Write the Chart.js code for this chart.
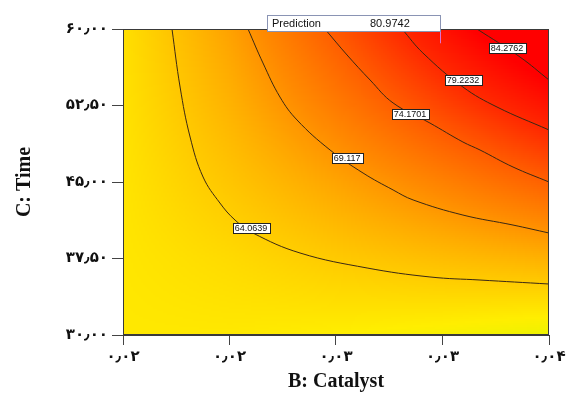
<!DOCTYPE html>
<html>
<head>
<meta charset="utf-8">
<script src="https://cdn.jsdelivr.net/npm/chart.js@4.4.0/dist/chart.umd.min.js"></script>
<style>
  html, body { margin: 0; padding: 0; background: #fff; }
  #wrap { width: 569px; height: 397px; }
</style>
</head>
<body>
<div id="wrap"><canvas id="myChart" width="569" height="397"></canvas></div>
<script>
// B: Catalyst on x, C: Time on y
var catalystTicks = [0.02, 0.025, 0.03, 0.035, 0.04];
var timeTicks = [30, 37.5, 45, 52.5, 60];
var catalystLabels = ['۰٫۰۲', '۰٫۰۲', '۰٫۰۳', '۰٫۰۳', '۰٫۰۴'];
var timeLabels = ['۳۰٫۰۰', '۳۷٫۵۰', '۴۵٫۰۰', '۵۲٫۵۰', '۶۰٫۰۰'];

// response estimated at the tick grid (one array per time value)
var resp30 = [61.5, 61.5, 61.0, 60.3, 59.3];
var resp375 = [61.7, 62.8, 64.3, 65.5, 66.6];
var resp45 = [61.9, 64.7, 67.7, 70.9, 74.2];
var resp525 = [62.1, 66.4, 71.5, 76.7, 81.7];
var resp60 = [62.3, 67.9, 74.9, 82.0, 89.1];

// contour lines [catalyst, time]
var contour1 = [[0.0223,60],[0.02268,54.31],[0.02315,49.41],[0.02376,45.49],[0.02455,42.94],[0.02526,41.27],[0.0261,40.0],[0.02831,38.04],[0.03146,36.57],[0.03441,35.69],[0.03676,35.39],[0.04,35.0]];
var contour2 = [[0.02587,60],[0.02657,56.67],[0.02737,53.33],[0.02817,51.08],[0.02972,48.14],[0.03127,45.88],[0.03268,44.22],[0.03362,43.24],[0.03596,41.76],[0.03831,40.78],[0.04,40.0]];
var contour3 = [[0.02948,60],[0.03052,57.45],[0.0316,55.0],[0.03268,52.75],[0.03441,50.78],[0.03596,48.92],[0.03676,48.14],[0.03831,46.47],[0.04,45.0]];
var contour4 = [[0.0331,60],[0.03408,57.65],[0.03596,54.31],[0.03756,52.35],[0.04,50.1]];
var contour5 = [[0.03662,60],[0.03864,57.25],[0.04,55.0]];

var contourLevels = ['64.0639', '69.117', '74.1701', '79.2232', '84.2762'];
var labelSpots = [[0.02601,40.49],[0.03052,47.35],[0.03347,51.67],[0.03596,55.0],[0.03803,58.14]];

var predictionPoint = [0.03486, 58.6];
var predictionValue = '80.9742';

var respGrid = [resp30, resp375, resp45, resp525, resp60];
var contours = [contour1, contour2, contour3, contour4, contour5];

// colour ramp: value -> rgb
var rampVals = [58, 61, 64, 67, 70, 74, 79, 84];
var rampCols = [[222,246,0],[255,238,0],[255,205,0],[255,172,0],[255,138,0],[255,98,0],[255,42,0],[255,0,0]];

function rampColour(v) {
  if (v <= rampVals[0]) return rampCols[0];
  for (var i = 1; i < rampVals.length; i++) {
    if (v <= rampVals[i]) {
      var t = (v - rampVals[i-1]) / (rampVals[i] - rampVals[i-1]);
      var a = rampCols[i-1], b = rampCols[i];
      return [a[0]+(b[0]-a[0])*t, a[1]+(b[1]-a[1])*t, a[2]+(b[2]-a[2])*t];
    }
  }
  return rampCols[rampCols.length-1];
}

function findCell(arr, v) {
  for (var i = 0; i < arr.length - 2; i++) {
    if (v < arr[i+1]) return i;
  }
  return arr.length - 2;
}

function respAt(x, y) {
  var i = findCell(catalystTicks, x);
  var j = findCell(timeTicks, y);
  var tx = (x - catalystTicks[i]) / (catalystTicks[i+1] - catalystTicks[i]);
  var ty = (y - timeTicks[j]) / (timeTicks[j+1] - timeTicks[j]);
  var a = respGrid[j][i], b = respGrid[j][i+1];
  var c = respGrid[j+1][i], d = respGrid[j+1][i+1];
  return (a*(1-tx) + b*tx) * (1-ty) + (c*(1-tx) + d*tx) * ty;
}

var surfacePlugin = {
  id: 'surface',
  beforeDatasetsDraw: function(chart) {
    var ctx = chart.ctx, area = chart.chartArea;
    var xs = chart.scales.x, ys = chart.scales.y;
    var step = 2;
    ctx.save();
    for (var px = area.left; px < area.right; px += step) {
      for (var py = area.top; py < area.bottom; py += step) {
        var v = respAt(xs.getValueForPixel(px + step/2), ys.getValueForPixel(py + step/2));
        var c = rampColour(v);
        ctx.fillStyle = 'rgb(' + Math.round(c[0]) + ',' + Math.round(c[1]) + ',' + Math.round(c[2]) + ')';
        ctx.fillRect(px, py, step, step);
      }
    }
    ctx.restore();
  },
  afterDatasetsDraw: function(chart) {
    var ctx = chart.ctx, area = chart.chartArea;
    var xs = chart.scales.x, ys = chart.scales.y;
    ctx.save();
    // frame
    ctx.strokeStyle = '#3a3a3a';
    ctx.lineWidth = 1;
    ctx.strokeRect(area.left + 0.5, area.top + 0.5, area.right - area.left - 1, area.bottom - area.top - 1);

    // contour labels
    ctx.font = '9px "Liberation Sans", Arial, sans-serif';
    ctx.textAlign = 'center';
    ctx.textBaseline = 'middle';
    for (var i = 0; i < contourLevels.length; i++) {
      var cx = xs.getPixelForValue(labelSpots[i][0]);
      var cy = ys.getPixelForValue(labelSpots[i][1]);
      var w = ctx.measureText(contourLevels[i]).width + 4;
      ctx.fillStyle = '#fff';
      ctx.fillRect(Math.round(cx - w/2) + 0.5, Math.round(cy - 5) + 0.5, Math.round(w), 10);
      ctx.strokeStyle = '#222';
      ctx.strokeRect(Math.round(cx - w/2) + 0.5, Math.round(cy - 5) + 0.5, Math.round(w), 10);
      ctx.fillStyle = '#111';
      ctx.fillText(contourLevels[i], cx, cy + 0.5);
    }

    // prediction flag
    var ppx = Math.round(xs.getPixelForValue(predictionPoint[0]));
    var ppy = ys.getPixelForValue(predictionPoint[1]);
    var bx = ppx - 173, by = area.top - 14;
    ctx.fillStyle = '#fff';
    ctx.fillRect(bx + 0.5, by + 0.5, 173, 16);
    ctx.strokeStyle = '#8a94b4';
    ctx.strokeRect(bx + 0.5, by + 0.5, 173, 16);
    ctx.strokeStyle = '#e070d0';
    ctx.beginPath();
    ctx.moveTo(ppx + 0.5, by + 17);
    ctx.lineTo(ppx + 0.5, ppy);
    ctx.stroke();
    ctx.fillStyle = '#111';
    ctx.font = '11px "Liberation Sans", Arial, sans-serif';
    ctx.textAlign = 'left';
    ctx.fillText('Prediction', bx + 5, by + 8.5);
    ctx.fillText(predictionValue, bx + 103, by + 8.5);
    ctx.restore();
  }
};

var datasets = contours.map(function(c, i) {
  return {
    label: contourLevels[i],
    data: c.map(function(p) { return { x: p[0], y: p[1] }; }),
    showLine: true,
    borderColor: '#3a2814',
    borderWidth: 1,
    pointRadius: 0,
    tension: 0.4,
    fill: false
  };
});

var tickFont = { family: '"DejaVu Sans", sans-serif', size: 15, weight: 'bold' };
var titleFont = { family: '"Liberation Serif", "Times New Roman", serif', size: 20, weight: 'bold' };

var ctx = document.getElementById('myChart').getContext('2d');
var chart = new Chart(ctx, {
  type: 'scatter',
  data: { datasets: datasets },
  options: {
    responsive: false,
    animation: false,
    layout: { padding: { left: 0, right: 20, top: 29, bottom: 0 } },
    plugins: { legend: { display: false }, tooltip: { enabled: false } },
    scales: {
      x: {
        type: 'linear', min: 0.02, max: 0.04,
        afterBuildTicks: function(s) { s.ticks = catalystTicks.map(function(v) { return { value: v }; }); },
        afterFit: function(s) { s.height = 62; },
        ticks: {
          color: '#111', font: tickFont, padding: 3, maxRotation: 0,
          callback: function(v, i) { return catalystLabels[i]; }
        },
        grid: { drawOnChartArea: false, drawTicks: true, tickLength: 10, color: '#444' },
        border: { color: '#3a3a3a' },
        title: { display: true, text: 'B: Catalyst', color: '#111', font: titleFont, padding: { top: 0, bottom: 3 } }
      },
      y: {
        type: 'linear', min: 30, max: 60,
        afterBuildTicks: function(s) { s.ticks = timeTicks.map(function(v) { return { value: v }; }); },
        afterFit: function(s) { s.width = 123; },
        ticks: {
          color: '#111', font: tickFont, padding: 4,
          callback: function(v, i) { return timeLabels[i]; }
        },
        grid: { drawOnChartArea: false, drawTicks: true, tickLength: 11, color: '#444' },
        border: { color: '#3a3a3a' },
        title: { display: true, text: 'C: Time', color: '#111', font: titleFont, padding: { top: 13, bottom: 0 } }
      }
    }
  },
  plugins: [surfacePlugin]
});
</script>
</body>
</html>
